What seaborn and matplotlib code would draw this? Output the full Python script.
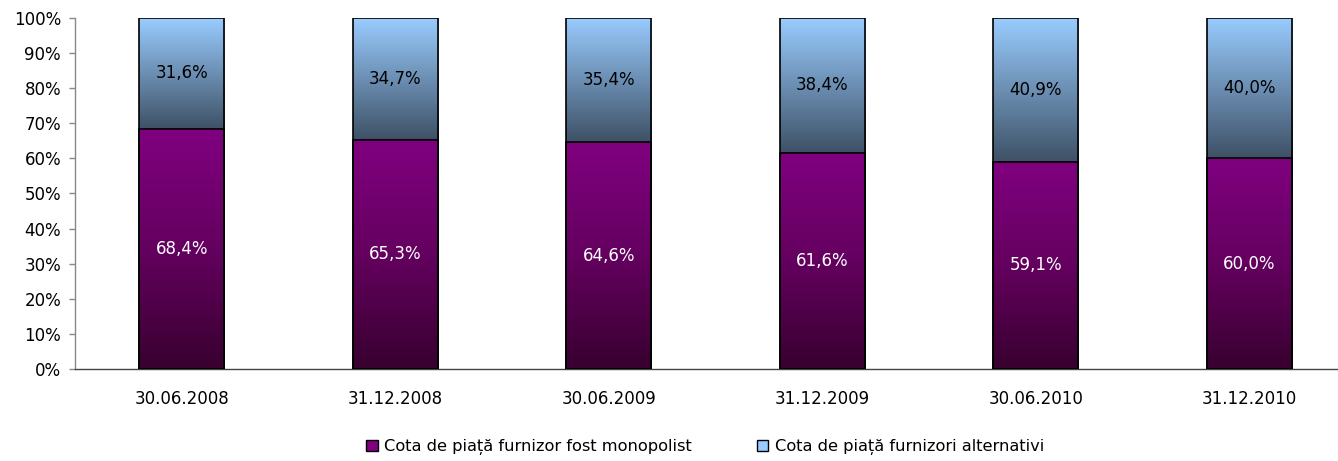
import numpy as np
import pandas as pd
import matplotlib
matplotlib.use('Agg')
import matplotlib.pyplot as plt
from matplotlib.colors import LinearSegmentedColormap
from matplotlib.patches import Patch
import seaborn as sns

dates = ['30.06.2008', '31.12.2008', '30.06.2009', '31.12.2009', '30.06.2010', '31.12.2010']
monopolist = [68.4, 65.3, 64.6, 61.6, 59.1, 60.0]
alternativi = [31.6, 34.7, 35.4, 38.4, 40.9, 40.0]
series_names = ['Cota de piață furnizor fost monopolist', 'Cota de piață furnizori alternativi']

df = pd.DataFrame({'date': dates, 'mono': monopolist, 'alt': alternativi})
df['total'] = df['mono'] + df['alt']

sns.set_style('white')
plt.rcParams['font.family'] = ['DejaVu Sans']
plt.rcParams['text.color'] = 'black'
plt.rcParams['xtick.color'] = 'black'
plt.rcParams['ytick.color'] = 'black'

# gradient fills, dark at the bottom of each segment
purple_cmap = LinearSegmentedColormap.from_list('pur', ['#38002f', '#64005f', '#800080'])
blue_cmap = LinearSegmentedColormap.from_list('blu', ['#3e5166', '#99ccff'])

fig = plt.figure(figsize=(13.38, 4.61), dpi=100)
ax = fig.add_axes([75 / 1338, 1 - 369 / 461, 1281 / 1338, 351 / 461])

bw = 0.4
sns.barplot(data=df, x='date', y='total', color='#99ccff', width=bw, ax=ax,
            edgecolor='black', linewidth=1.2, zorder=3)
n_alt = len(ax.patches)
sns.barplot(data=df, x='date', y='mono', color='#800080', width=bw, ax=ax,
            edgecolor='black', linewidth=1.2, zorder=3)

grad = np.linspace(0, 1, 256).reshape(-1, 1)
for i, p in enumerate(ax.patches):
    x0, w = p.get_x(), p.get_width()
    if i < n_alt:
        y0 = df['mono'].iloc[i]
        y1 = p.get_height()
        cmap = blue_cmap
    else:
        y0 = 0
        y1 = p.get_height()
        cmap = purple_cmap
    ax.imshow(grad, cmap=cmap, origin='lower', aspect='auto',
              extent=[x0, x0 + w, y0, y1], zorder=2, interpolation='bilinear')
    p.set_facecolor('none')

for i, row in df.iterrows():
    ax.text(i, row['mono'] / 2, f"{row['mono']:.1f}%".replace('.', ','),
            ha='center', va='center', color='white', fontsize=12, zorder=5)
    ax.text(i, row['mono'] + row['alt'] / 2, f"{row['alt']:.1f}%".replace('.', ','),
            ha='center', va='center', color='black', fontsize=12, zorder=5)

ax.set_xlim(-0.5, len(dates) - 0.5)
ax.set_ylim(0, 100)
ax.set_yticks(np.arange(0, 101, 10))
ax.set_yticklabels([f'{v}%' for v in range(0, 101, 10)])
ax.set_xticks(range(len(dates)))
ax.set_xticklabels(dates)
ax.set_xticks(np.arange(0.5, len(dates) - 0.5, 1), minor=True)
ax.tick_params(axis='x', which='major', length=0, pad=15, labelsize=12)
ax.tick_params(axis='x', which='minor', length=5, width=1, color='#444444', direction='out')
ax.tick_params(axis='y', length=4, width=1, color='#888888', pad=6, labelsize=12, left=True)
ax.set_xlabel('')
ax.set_ylabel('')
for s in ['top', 'right']:
    ax.spines[s].set_visible(False)
ax.spines['left'].set_color('#888888')
ax.spines['bottom'].set_color('#444444')
ax.spines['left'].set_linewidth(1)
ax.spines['bottom'].set_linewidth(1)

handles = [Patch(facecolor='#800080', edgecolor='black', linewidth=1),
           Patch(facecolor='#99ccff', edgecolor='black', linewidth=1)]
fig.legend(handles, series_names, loc='center', bbox_to_anchor=(0.527, 0.03), ncol=2,
           frameon=False, fontsize=11.7, handlelength=0.7, handleheight=0.7,
           handletextpad=0.4, columnspacing=4.0)

fig.savefig('out.png', dpi=100)
